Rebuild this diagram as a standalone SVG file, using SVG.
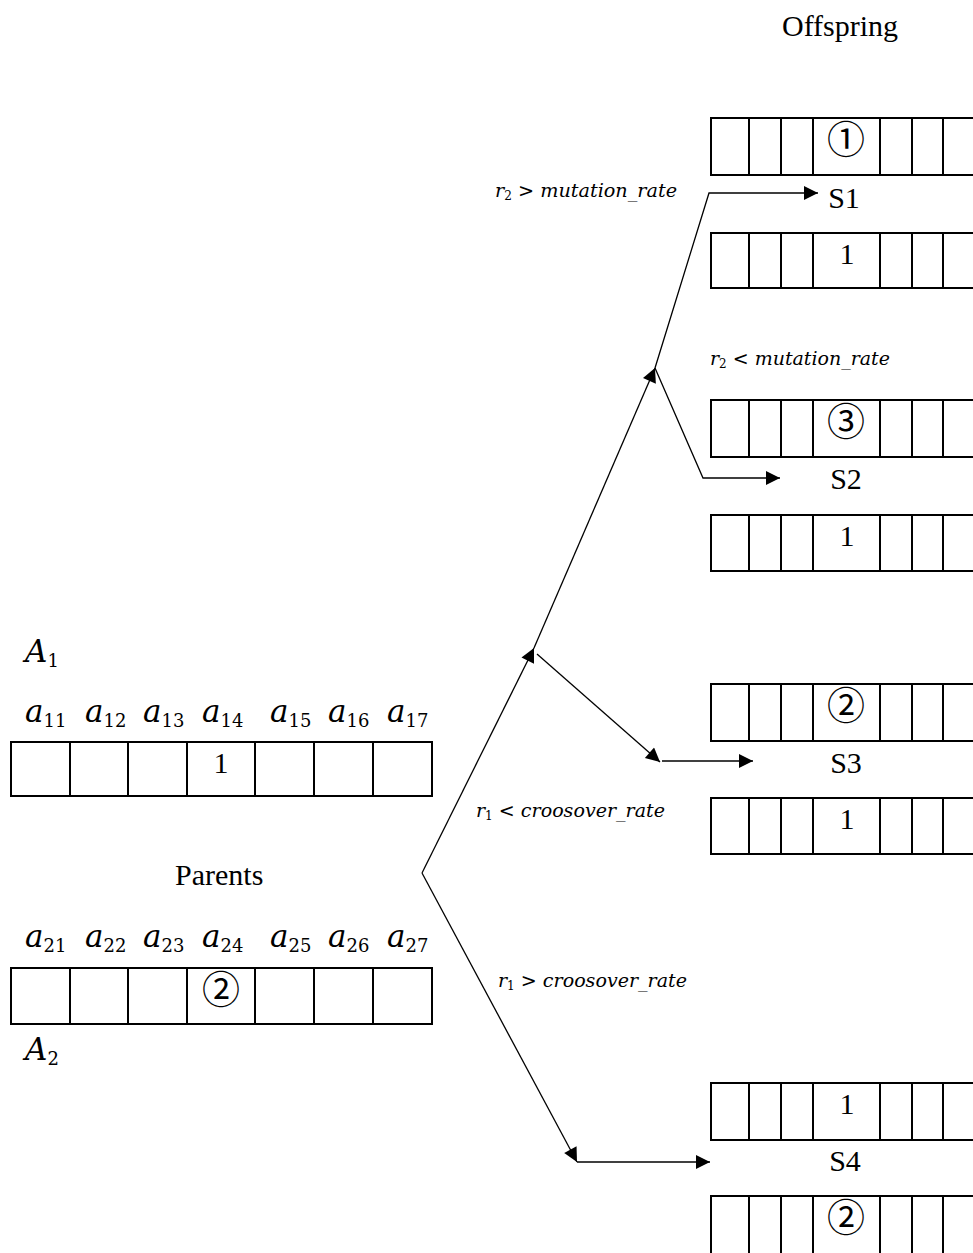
<svg xmlns="http://www.w3.org/2000/svg" width="973" height="1253" viewBox="0 0 973 1253">
<style>
.box{fill:#fff;stroke:#000;stroke-width:2}
.div{stroke:#000;stroke-width:2}
.t{font-family:"Liberation Serif","Times New Roman",serif;font-size:30px;fill:#000}
.c{font-family:"Noto Sans CJK SC","DejaVu Sans",sans-serif;font-size:38px;fill:#000;text-anchor:middle}
.m{font-family:"DejaVu Serif",serif;font-style:italic;font-size:31px;fill:#000}
.ms{font-family:"DejaVu Serif",serif;font-style:normal;font-size:18px}
.lb{font-family:"DejaVu Serif",serif;font-style:italic;font-size:19px;fill:#000}
.lbs{font-style:normal;font-size:12px}
.ln{stroke:#000;stroke-width:1.3;fill:none}
</style>
<defs>
<marker id="ah" viewBox="0 0 10 10" refX="10" refY="5" markerWidth="18" markerHeight="14" markerUnits="userSpaceOnUse" orient="auto">
<path d="M0,0 L10,5 L0,10 z" fill="#000"/>
</marker>
</defs>

<text class="t" x="782" y="36">Offspring</text>
<text class="t" x="175" y="885">Parents</text>

<g id="A1">
<text class="m" x="25" y="662">A<tspan class="ms" dy="5">1</tspan></text>
<g>
<text class="m" x="25" y="722">a<tspan class="ms" dy="5">11</tspan></text>
<text class="m" x="85" y="722">a<tspan class="ms" dy="5">12</tspan></text>
<text class="m" x="143" y="722">a<tspan class="ms" dy="5">13</tspan></text>
<text class="m" x="202" y="722">a<tspan class="ms" dy="5">14</tspan></text>
<text class="m" x="270" y="722">a<tspan class="ms" dy="5">15</tspan></text>
<text class="m" x="328" y="722">a<tspan class="ms" dy="5">16</tspan></text>
<text class="m" x="387" y="722">a<tspan class="ms" dy="5">17</tspan></text>
</g>
<rect class="box" x="11" y="742" width="421" height="54"/>
<path class="div" d="M70,742V796M128,742V796M187,742V796M255,742V796M314,742V796M373,742V796"/>
<text class="t" x="221" y="773" text-anchor="middle">1</text>
</g>

<g id="A2">
<text class="m" x="25" y="947">a<tspan class="ms" dy="5">21</tspan></text>
<text class="m" x="85" y="947">a<tspan class="ms" dy="5">22</tspan></text>
<text class="m" x="143" y="947">a<tspan class="ms" dy="5">23</tspan></text>
<text class="m" x="202" y="947">a<tspan class="ms" dy="5">24</tspan></text>
<text class="m" x="270" y="947">a<tspan class="ms" dy="5">25</tspan></text>
<text class="m" x="328" y="947">a<tspan class="ms" dy="5">26</tspan></text>
<text class="m" x="387" y="947">a<tspan class="ms" dy="5">27</tspan></text>
<rect class="box" x="11" y="968" width="421" height="56"/>
<path class="div" d="M70,968V1024M128,968V1024M187,968V1024M255,968V1024M314,968V1024M373,968V1024"/>
<text class="c" x="221" y="1003">②</text>
<text class="m" x="25" y="1060">A<tspan class="ms" dy="5">2</tspan></text>
</g>

<g id="S1">
<rect class="box" x="711" y="118" width="290" height="57"/>
<path class="div" d="M749,118V175M781,118V175M813,118V175M880,118V175M912,118V175M943,118V175"/>
<text class="c" x="846" y="153">①</text>
<text class="t" x="844" y="208" text-anchor="middle">S1</text>
<rect class="box" x="711" y="233" width="290" height="55"/>
<path class="div" d="M749,233V288M781,233V288M813,233V288M880,233V288M912,233V288M943,233V288"/>
<text class="t" x="847" y="264" text-anchor="middle">1</text>
</g>

<g id="S2">
<rect class="box" x="711" y="400" width="290" height="57"/>
<path class="div" d="M749,400V457M781,400V457M813,400V457M880,400V457M912,400V457M943,400V457"/>
<text class="c" x="846" y="435">③</text>
<text class="t" x="846" y="489" text-anchor="middle">S2</text>
<rect class="box" x="711" y="515" width="290" height="56"/>
<path class="div" d="M749,515V571M781,515V571M813,515V571M880,515V571M912,515V571M943,515V571"/>
<text class="t" x="847" y="546" text-anchor="middle">1</text>
</g>

<g id="S3">
<rect class="box" x="711" y="684" width="290" height="57"/>
<path class="div" d="M749,684V741M781,684V741M813,684V741M880,684V741M912,684V741M943,684V741"/>
<text class="c" x="846" y="719">②</text>
<text class="t" x="846" y="773" text-anchor="middle">S3</text>
<rect class="box" x="711" y="798" width="290" height="56"/>
<path class="div" d="M749,798V854M781,798V854M813,798V854M880,798V854M912,798V854M943,798V854"/>
<text class="t" x="847" y="829" text-anchor="middle">1</text>
</g>

<g id="S4">
<rect class="box" x="711" y="1083" width="290" height="57"/>
<path class="div" d="M749,1083V1140M781,1083V1140M813,1083V1140M880,1083V1140M912,1083V1140M943,1083V1140"/>
<text class="t" x="847" y="1114" text-anchor="middle">1</text>
<text class="t" x="845" y="1171" text-anchor="middle">S4</text>
<rect class="box" x="711" y="1196" width="290" height="70"/>
<path class="div" d="M749,1196V1266M781,1196V1266M813,1196V1266M880,1196V1266M912,1196V1266M943,1196V1266"/>
<text class="c" x="846" y="1231">②</text>
</g>

<g id="labels">
<text class="lb" x="495" y="197" textLength="182" lengthAdjust="spacingAndGlyphs">r<tspan class="lbs" dy="3">2</tspan><tspan dy="-3"> &gt; mutation_rate</tspan></text>
<text class="lb" x="710" y="365" textLength="180" lengthAdjust="spacingAndGlyphs">r<tspan class="lbs" dy="3">2</tspan><tspan dy="-3"> &lt; mutation_rate</tspan></text>
<text class="lb" x="476" y="817" textLength="189" lengthAdjust="spacingAndGlyphs">r<tspan class="lbs" dy="3">1</tspan><tspan dy="-3"> &lt; croosover_rate</tspan></text>
<text class="lb" x="498" y="987" textLength="189" lengthAdjust="spacingAndGlyphs">r<tspan class="lbs" dy="3">1</tspan><tspan dy="-3"> &gt; croosover_rate</tspan></text>
</g>

<g id="connectors">
<path class="ln" d="M422,873 L534,648" marker-end="url(#ah)"/>
<path class="ln" d="M534,648 L655,368" marker-end="url(#ah)"/>
<path class="ln" d="M655,368 L709,193 L818,193" marker-end="url(#ah)"/>
<path class="ln" d="M655,368 L703,478 L780,478" marker-end="url(#ah)"/>
<path class="ln" d="M537,654 L660,762" marker-end="url(#ah)"/>
<path class="ln" d="M662,761 L753,761" marker-end="url(#ah)"/>
<path class="ln" d="M422,873 L577,1162" marker-end="url(#ah)"/>
<path class="ln" d="M577,1162 L710,1162" marker-end="url(#ah)"/>
</g>
</svg>
